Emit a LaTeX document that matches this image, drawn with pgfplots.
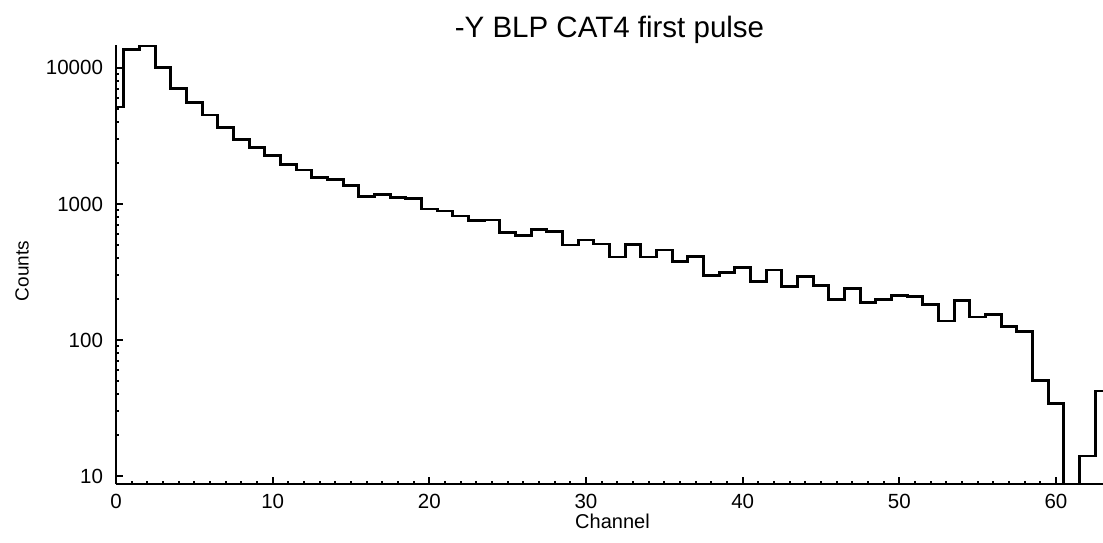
\documentclass[border=0pt]{standalone}
\usepackage{fontspec}
\setmainfont{Liberation Sans}
\usepackage{pgfplots}
\pgfplotsset{compat=1.18}
\begin{document}
\begin{tikzpicture}
\begin{axis}[
  at={(0,0)}, anchor=south west,
  width=493.5pt, height=219.5pt, scale only axis,
  xmin=0, xmax=63, ymin=8.79, ymax=14700,
  ymode=log,
  axis x line*=bottom, axis y line*=left,
  axis line style={line width=1pt},
  tick align=inside,
  major tick length=3.5pt, minor tick length=1.75pt,
  every tick/.style={black, line width=1pt},
  xtick={0,10,...,60}, minor x tick num=9,
  xticklabels={0,10,20,30,40,50,60},
  ytick={10,100,1000,10000}, yticklabels={10,100,1000,10000},
  tick label style={font=\fontsize{10.25}{12}\selectfont},
  xticklabel style={yshift=-1.6pt},
  yticklabel style={xshift=-3pt},
  every axis title shift=0pt,
  title={-Y BLP CAT4 first pulse},
  title style={at={(axis description cs:0.5,1.018)}, anchor=base, font=\fontsize{14.75}{17}\selectfont},
  xlabel={Channel},
  xlabel style={at={(axis description cs:0.503,-0.1025)}, anchor=base, font=\fontsize{10}{12}\selectfont},
  ylabel={Counts},
  ylabel style={at={(axis description cs:-0.0952,0.485)}, anchor=center, rotate=0, font=\fontsize{9.5}{12}\selectfont},
]
\addplot[const plot mark mid, black, line width=1.35pt, mark=none] coordinates {
(0,5160) (1,13670) (2,14450) (3,10030) (4,7080) (5,5550) (6,4510) (7,3640)
(8,2960) (9,2600) (10,2260) (11,1960) (12,1775) (13,1567) (14,1507) (15,1362)
(16,1130) (17,1170) (18,1112) (19,1098) (20,919) (21,889) (22,817) (23,759)
(24,764) (25,617) (26,586) (27,649) (28,631) (29,501) (30,545) (31,509)
(32,409) (33,506) (34,407) (35,460) (36,378) (37,411) (38,297) (39,314)
(40,340) (41,271) (42,328) (43,247) (44,292) (45,252) (46,199) (47,240)
(48,190) (49,198) (50,213) (51,209) (52,183) (53,138) (54,195) (55,148)
(56,155) (57,126) (58,116) (59,50.7) (60,34.3) (61,1) (62,14.1) (63,42.4)
};
\end{axis}
\pgfresetboundingbox
\path[use as bounding box] (-58pt,-29pt) rectangle (493.5pt,242pt);
\end{tikzpicture}
\end{document}
